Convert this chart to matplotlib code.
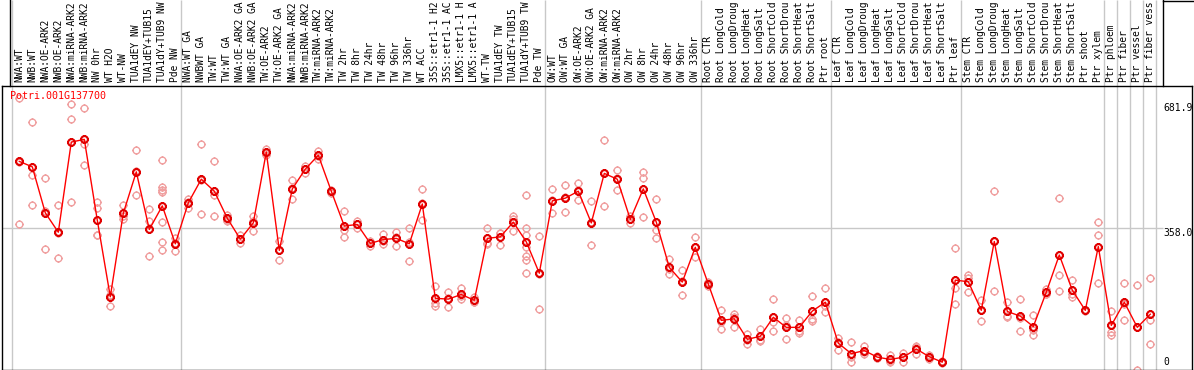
import numpy as np
import matplotlib
matplotlib.use("Agg")
import matplotlib.pyplot as plt
from matplotlib.path import Path
from matplotlib.lines import Line2D

# ---------------- data ----------------
title = "Potri.001G137700"

# header labels as they are visible in the reference (long names are cut at the top edge there)
labels = [
    # group 1
    "NWA:WT", "NWB:WT", "NWA:OE-ARK2", "NWB:OE-ARK2", "NWA:miRNA-ARK2", "NWB:miRNA-ARK2",
    "NW 0hr", "WT H2O", "WT-NW", "TUA1dEY NW", "TUA1dEY+TUB15", "TUA1dY+TUB9 NW", "Pde NW",
    # group 2
    "NWA:WT GA", "NWBWT GA", "TW:WT", "TW:WT GA", "NWA:OE-ARK2 GA", "NWB:OE-ARK2 GA",
    "TW:OE-ARK2", "TW:OE-ARK2 GA", "NWA:miRNA-ARK2", "NWB:miRNA-ARK2", "TW:miRNA-ARK2",
    "TW:miRNA-ARK2", "TW 2hr", "TW 8hr", "TW 24hr", "TW 48hr", "TW 96hr", "TW 336hr",
    "WT ACC", "35S::etr1-1 H2", "35S::etr1-1 AC", "LMX5::etr1-1 H", "LMX5::etr1-1 A",
    "WT-TW", "TUA1dEY TW", "TUA1dEY+TUB15", "TUA1dY+TUB9 TW", "Pde TW",
    # group 3
    "OW:WT", "OW:WT GA", "OW:OE-ARK2", "OW:OE-ARK2 GA", "OW:miRNA-ARK2", "OW:miRNA-ARK2",
    "OW 2hr", "OW 8hr", "OW 24hr", "OW 48hr", "OW 96hr", "OW 336hr",
    # group 4
    "Root CTR", "Root LongCold", "Root LongDroug", "Root LongHeat", "Root LongSalt",
    "Root ShortCold", "Root ShortDrou", "Root ShortHeat", "Root ShortSalt", "Ptr root",
    # group 5
    "Leaf CTR", "Leaf LongCold", "Leaf LongDroug", "Leaf LongHeat", "Leaf LongSalt",
    "Leaf ShortCold", "Leaf ShortDrou", "Leaf ShortHeat", "Leaf ShortSalt", "Ptr leaf",
    # group 6
    "Stem CTR", "Stem LongCold", "Stem LongDroug", "Stem LongHeat", "Stem LongSalt",
    "Stem ShortCold", "Stem ShortDrou", "Stem ShortHeat", "Stem ShortSalt", "Ptr shoot",
    "Ptr xylem",
    # single groups
    "Ptr phloem", "Ptr fiber", "Ptr vessel", "Ptr fiber vess",
]

group_sizes = [13, 28, 12, 10, 10, 11, 1, 1, 1, 1]

means = [
    531, 517, 398, 348, 581, 588, 379, 181, 397, 504, 355, 416, 318,
    424, 485, 454, 384, 330, 372, 555, 301, 460, 511, 547, 454, 364, 368, 319,
    329, 332, 318, 421, 177, 175, 187, 172, 332, 336, 374, 323, 242,
    429, 436, 454, 372, 500, 485, 381, 460, 374, 257, 219, 309,
    214, 120, 124, 71, 79, 128, 102, 102, 144, 167,
    61, 34, 42, 25, 19, 25, 46, 26, 12, 224,
    220, 146, 324, 143, 131, 104, 193, 289, 198, 146, 311,
    107, 167, 102, 136,
]

replicates = [
    [695, 529, 369], [632, 496, 418], [487, 402, 304], [418, 345, 280], [679, 640, 425],
    [668, 577, 521], [425, 411, 342, 340], [200, 186, 156], [419, 389, 382], [560, 506, 445],
    [407, 376, 286], [534, 465, 458, 451, 374, 322, 301], [333, 320, 300],
    [434, 426, 411], [576, 483, 395], [531, 443, 389], [393, 378, 380], [342, 330, 319],
    [389, 376, 350], [564, 554, 548], [326, 302, 275], [482, 462, 435], [518, 512, 501],
    [557, 545, 538], [458, 454, 449], [402, 354, 336], [378, 368, 359], [326, 319, 312],
    [344, 324, 318], [349, 335, 313], [358, 323, 274], [459, 424, 380], [209, 166, 156],
    [193, 177, 155], [203, 183, 176], [181, 168, 167], [358, 318, 320], [346, 345, 316],
    [389, 382, 352], [443, 359, 341, 309, 287, 276, 242], [337, 239, 149],
    [459, 431, 397], [471, 439, 399], [474, 456, 430], [428, 374, 314], [586, 500, 415],
    [508, 488, 458], [391, 381, 372], [504, 487, 386], [433, 353, 332], [278, 254, 240],
    [249, 223, 185], [335, 309, 283],
    [219, 216, 208], [146, 117, 97], [136, 129, 102], [85, 69, 59], [98, 70, 66],
    [174, 116, 92], [126, 109, 71], [121, 93, 87], [182, 124, 119], [203, 156, 141],
    [75, 63, 44], [63, 25, 13], [54, 38, 33], [27, 24, 22], [31, 15, 12],
    [36, 25, 12], [55, 50, 33], [31, 26, 21], [15, 12, 10], [306, 203, 162],
    [237, 230, 193], [173, 148, 118], [454, 325, 195], [168, 132, 130], [175, 125, 92],
    [135, 95, 81], [202, 188, 188], [436, 237, 195], [224, 189, 181], [148, 146, 144],
    [374, 342, 216],
    [143, 90, 83], [216, 162, 122], [211, 104, -8], [229, 122, 58],
]

tick_values = [681.9, 358.0, 0]
tick_texts = ["681.9", "358.0", "0"]

# ---------------- layout ----------------
W, H = 1194, 370
fig = plt.figure(figsize=(W / 100, H / 100), dpi=100)
fig.patch.set_facecolor("white")

ax_l, ax_r, ax_t, ax_b = 2, 1192, 86, 369.5
ax = fig.add_axes([ax_l / W, 1 - ax_b / H, (ax_r - ax_l) / W, (ax_b - ax_t) / H])

n = len(labels)
x = np.arange(n)
step = 13.0
x0px = 19.3
xmin = -(x0px - ax_l) / step
xmax = xmin + (ax_r - ax_l) / step
ax.set_xlim(xmin, xmax)

zero_px = 366.8
ppu = 0.3868
ax.set_ylim((zero_px - ax_b) / ppu, (zero_px - ax_t) / ppu)

mono = "DejaVu Sans Mono"
grey = "#c8c8c8"

# separators
bounds = np.cumsum(group_sizes) - 1 + 0.4
seps = np.concatenate([[-0.6], bounds])
ax.vlines(seps, 0, 1 + ax_t / (ax_b - ax_t), transform=ax.get_xaxis_transform(),
          colors=grey, lw=1, clip_on=False, zorder=0.5)

x_right = (1163 - x0px) / step
ax.hlines(tick_values[1], xmin, x_right, colors=grey, lw=1, zorder=0.5)

# marker: circle with small ticks
circ = Path.unit_circle()
verts = list(circ.vertices)
codes = list(circ.codes)
for dx, dy in [(0, 1), (0, -1), (1, 0), (-1, 0)]:
    verts += [(dx * 1.0, dy * 1.0), (dx * 1.3, dy * 1.3)]
    codes += [Path.MOVETO, Path.LINETO]
mk = Path(verts, codes)

for i, reps in enumerate(replicates):
    ax.plot([x[i]] * len(reps), reps, ls="none", marker=mk, ms=6.3, mfc="none",
            mec="#f0a0a0", mew=1.0, zorder=2)

ax.plot(x, means, color="#ff0000", lw=1.0, zorder=3)
ax.plot(x, means, ls="none", marker=mk, ms=6.3, mfc="none", mec="#e00000", mew=1.5, zorder=4)

# top labels
ax.set_xticks(x)
ax.set_xticklabels(labels, fontfamily=mono, fontsize=6.9, rotation=90)
ax.xaxis.tick_top()
ax.tick_params(axis="x", length=0, pad=3)
ax.set_yticks([])

for sp in ax.spines.values():
    sp.set_color("black")
    sp.set_linewidth(1)

# right value labels
ax.text(x_right, tick_values[0], tick_texts[0], ha="left", va="top", fontfamily=mono, fontsize=7)
ax.text(x_right, tick_values[1], tick_texts[1], ha="left", va="top", fontfamily=mono, fontsize=7)
ax.text(x_right, tick_values[2], tick_texts[2], ha="left", va="bottom", fontfamily=mono, fontsize=7)

# title
ax.text((10 - ax_l) / (ax_r - ax_l), (ax_b - 91) / (ax_b - ax_t), title, transform=ax.transAxes,
        ha="left", va="top", color="#ff0000", fontfamily=mono, fontsize=7.2)

# header frame lines
for xp in (10, 1163):
    fig.add_artist(Line2D([xp / W, xp / W], [1, 1 - ax_t / H], transform=fig.transFigure,
                          color="black", lw=1))
fig.add_artist(Line2D([1163 / W, 1], [1 - 0.5 / H, 1 - 0.5 / H], transform=fig.transFigure,
                      color="black", lw=1))

fig.savefig("out.png", dpi=100, facecolor="white")
